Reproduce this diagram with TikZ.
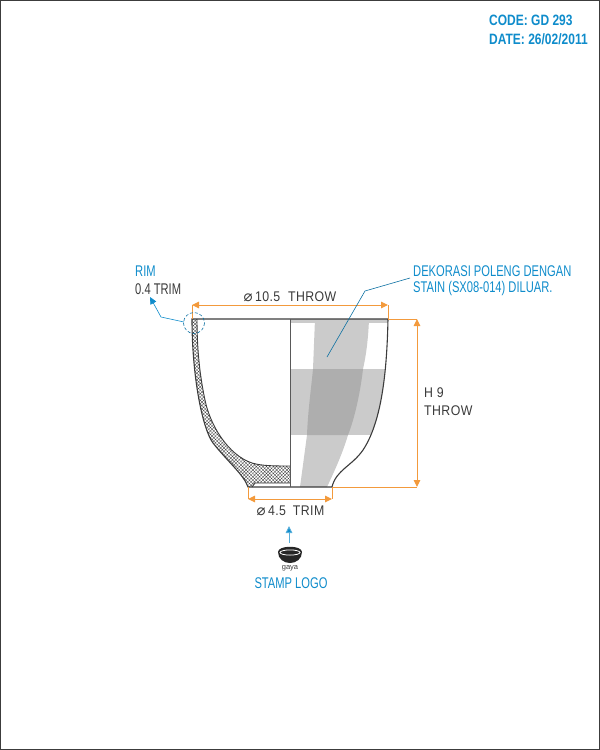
\documentclass[tikz,border=0pt]{standalone}
\usepackage{fontspec}
\usetikzlibrary{patterns,patterns.meta,arrows.meta}
\setmainfont{Liberation Sans}
\newfontfamily\narrowf[FakeStretch=0.72]{Liberation Sans}
\newfontfamily\headf[FakeStretch=0.8]{Liberation Sans}
\newfontfamily\dimf[FakeStretch=0.88,LetterSpace=3]{Liberation Sans}
\newfontfamily\smallf{Liberation Sans}
\newfontfamily\symf{DejaVu Sans}
\newcommand{\diam}{{\symf\fontsize{15}{15}\selectfont ⌀}}
\definecolor{dimorange}{HTML}{F39A3C}
\definecolor{noteblue}{HTML}{0F8CCB}
\definecolor{dimtext}{HTML}{3A3A3A}
\definecolor{lightband}{HTML}{CBCBCB}
\definecolor{darkband}{HTML}{AEAEAE}
\definecolor{cupline}{HTML}{3C3C3C}
\tikzset{
  x=1pt,y=-1pt,
  blue note/.style={font=\narrowf\fontsize{15.5}{17}\selectfont,text=noteblue,inner sep=0pt,anchor=west},
  head note/.style={font=\headf\bfseries\fontsize{15}{16}\selectfont,text=noteblue,inner sep=0pt,anchor=west},
  dim note/.style={font=\dimf\fontsize{14}{15}\selectfont,text=dimtext,inner sep=0pt},
  dim line/.style={draw=dimorange,line width=1pt},
  dim arrow/.style={dim line,{Triangle[length=7pt,width=6.5pt]}-{Triangle[length=7pt,width=6.5pt]}},
  leader/.style={draw=noteblue!80!black,line width=0.6pt},
  cup/.style={draw=cupline,line width=1.1pt},
}
\begin{document}
\begin{tikzpicture}
\useasboundingbox (0,0) rectangle (600,750);
\draw[draw=cupline,line width=1.5pt] (0,0) rectangle (600,750);

% decoration on the right half
\begin{scope}
  \clip (290.5,319) -- (388,319)
     .. controls (387,365) and (383,420) .. (363,450)
     .. controls (352,466) and (336,470) .. (332,487) -- (290.5,487) -- cycle;
  \fill[lightband] (290.5,319) rectangle (390,322.5);
  \fill[lightband] (290.5,369) rectangle (390,435);
  \fill[lightband] (315,319) -- (369,319) .. controls (368,345) and (365,360) .. (363,369)
     .. controls (360,395) and (354,420) .. (348,435)
     .. controls (342,455) and (334,472) .. (327,487) -- (300,487)
     .. controls (303,465) and (305,450) .. (307,435)
     .. controls (308,410) and (311,390) .. (313,369) -- cycle;
  \fill[darkband] (313,369) -- (363,369)
     .. controls (360,395) and (354,420) .. (348,435) -- (307,435)
     .. controls (308,410) and (311,390) .. (313,369) -- cycle;
\end{scope}

% hatched wall section, left half
\path[pattern={Hatch[angle=45,distance=2.4pt,line width=0.3pt]},pattern color=cupline]
  (192,319) -- (197,319) .. controls (197,345) and (199,372) .. (205,400)
  .. controls (210,425) and (228,455) .. (252,463)
  .. controls (262,466) and (275,466) .. (290.5,466)
  -- (290.5,483) -- (255,483) -- (252,487) -- (248,487)
  .. controls (244,475) and (228,462) .. (213,443)
  .. controls (202,428) and (192,375) .. (192,319) -- cycle;
\draw[cup,line width=0.9pt]
  (197,319) .. controls (197,345) and (199,372) .. (205,400)
  .. controls (210,425) and (228,455) .. (252,463)
  .. controls (262,466) and (275,466) .. (290.5,466);
\draw[cup,line width=0.9pt] (290.5,483) -- (255,483) -- (252,487);

% cup outline
\draw[cup] (192,319) -- (388,319)
     .. controls (387,365) and (383,420) .. (363,450)
     .. controls (352,466) and (336,470) .. (332,487) -- (248,487)
     .. controls (244,475) and (228,462) .. (213,443)
     .. controls (202,428) and (192,375) .. (192,319) -- cycle;
\draw[draw=cupline!85,line width=1.3pt] (290.5,319) -- (290.5,487);

% dimension anchors
\coordinate (topL) at (192,305);
\coordinate (topR) at (388,305);
\coordinate (rimL) at (192,319);
\coordinate (rimR) at (388,319);
\coordinate (hT) at (417,319);
\coordinate (hB) at (417,487);
\coordinate (footR) at (332,487);
\coordinate (footL) at (248,487);
\coordinate (botL) at (248,499);
\coordinate (botR) at (332,499);

\draw[dim line] (rimL) -- (topL);
\draw[dim line] (rimR) -- (topR);
\draw[dim arrow] (topL) -- (topR);
\draw[dim line] (rimR) -- (hT);
\draw[dim line] (footR) -- (hB);
\draw[dim arrow] (hT) -- (hB);
\draw[dim line] (footL) -- (botL);
\draw[dim line] (footR) -- (botR);
\draw[dim arrow] (botL) -- (botR);

% labels
\node[head note] (code) at (489,20) {CODE: GD 293};
\node[head note] (date) at (489,39) {DATE: 26/02/2011};
\node[blue note] (rim) at (135,271) {RIM};
\node[blue note,text=dimtext] (trim) at (135,289) {0.4 TRIM};
\node[blue note] (deko) at (413,271) {DEKORASI POLENG DENGAN};
\node[blue note] (stain) at (413,288) {STAIN (SX08-014) DILUAR.};
\node[dim note] (d105) at (290,297) {\diam\,10.5\hspace{4pt} THROW};
\node[dim note,anchor=west] (h9) at (424,393) {H 9};
\node[dim note,anchor=west] (hthrow) at (424,411) {THROW};
\node[dim note] (d45) at (290.5,511) {\diam\,4.5\hspace{3pt} TRIM};
\node[font=\smallf\fontsize{7.5}{8}\selectfont,text=dimtext,inner sep=0pt] (gaya) at (290,568) {gaya};
\node[blue note,anchor=center] (stamp) at (291,583) {STAMP LOGO};

% rim callout
\coordinate (rimC) at (194,323);
\draw[leader,dash pattern=on 3pt off 2pt] (rimC) circle[radius=10.5];
\coordinate (rimA) at (184,322);
\coordinate (rimB) at (161,317);
\coordinate (rimT) at (150,297);
\draw[leader,draw=noteblue,-{Triangle[length=7pt,width=6.5pt]}] (rimA) -- (rimB) -- (rimT);

% decoration callout
\coordinate (decA) at (410,278);
\coordinate (decB) at (365,291);
\coordinate (decC) at (327,357);
\draw[leader] (decA) -- (decB) -- (decC);

% stamp arrow and bowl logo
\coordinate (stA) at (289,543);
\coordinate (stB) at (289,526);
\draw[draw=noteblue!70,line width=0.9pt,-{Triangle[length=7pt,width=6.5pt,fill=noteblue]}] (stA) -- (stB);
\fill[black!85] (278,552) .. controls (278,545) and (302,545) .. (302,552)
   .. controls (302,559) and (296,563) .. (290,563)
   .. controls (284,563) and (278,559) .. (278,552) -- cycle;
\draw[white,line width=0.8pt,fill=black!85] (290,552.5) ellipse[x radius=10,y radius=2.6];
\end{tikzpicture}
\end{document}
